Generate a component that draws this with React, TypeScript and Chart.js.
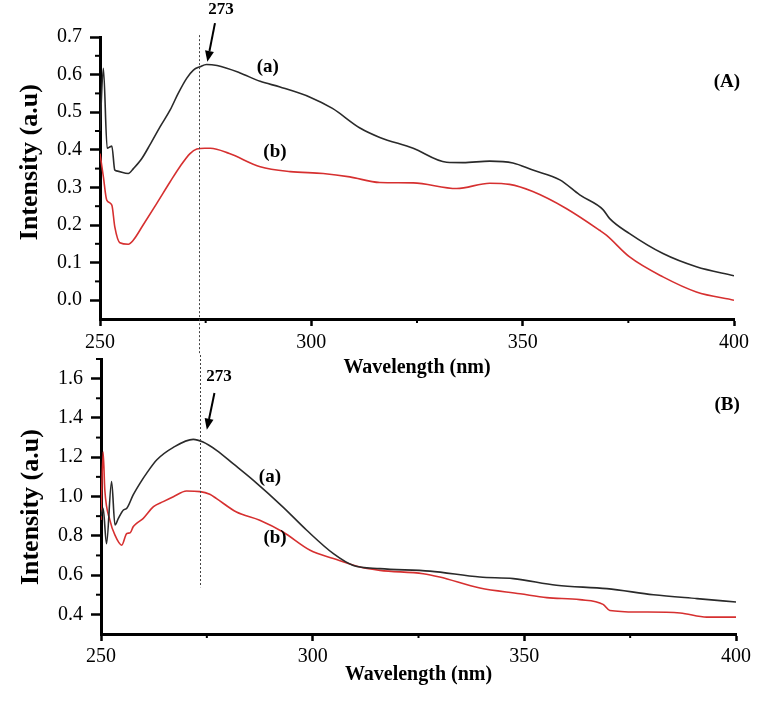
import React, { useEffect, useRef } from 'react';
import { Chart, registerables } from 'chart.js';

Chart.register(...registerables);

const SERIF = "'Liberation Serif', 'Times New Roman', serif";

// ---------- Panel A ----------
const wavelengthA_a = [250, 250.8, 251.7, 252.4, 252.8, 253.5, 253.9, 256.7, 257.9, 259.9, 261.8, 264.2, 266.6, 268.5, 270.5, 272.1, 273.7, 275.2, 277.7, 283, 287.9, 292.6, 299.7, 305, 311.5, 316.2, 324.1, 332, 335.9, 342.2, 347.7, 352.4, 358.8, 363.5, 369, 370.6, 375.3, 383.2, 391.1, 400];
const intensityA_a = [0.45, 0.617, 0.404, 0.408, 0.41, 0.346, 0.344, 0.337, 0.35, 0.377, 0.413, 0.461, 0.506, 0.55, 0.59, 0.612, 0.621, 0.627, 0.624, 0.605, 0.582, 0.567, 0.54, 0.51, 0.458, 0.433, 0.404, 0.367, 0.366, 0.37, 0.365, 0.346, 0.32, 0.28, 0.241, 0.217, 0.177, 0.124, 0.089, 0.065];
const wavelengthA_b = [250, 250.8, 251.6, 252.8, 253.5, 254.7, 256.7, 257.9, 260.2, 263.4, 266.6, 268.9, 271.3, 272.9, 274.8, 276.1, 280.6, 287.9, 295, 302.8, 309.1, 316.2, 324.1, 334.4, 342.2, 346.9, 352.4, 360.3, 368.2, 369.8, 375.3, 383.2, 391.1, 400];
const intensityA_b = [0.39, 0.328, 0.266, 0.253, 0.195, 0.153, 0.149, 0.16, 0.2, 0.257, 0.315, 0.355, 0.39, 0.402, 0.404, 0.404, 0.39, 0.355, 0.342, 0.337, 0.328, 0.313, 0.312, 0.297, 0.311, 0.308, 0.289, 0.244, 0.186, 0.173, 0.115, 0.062, 0.022, 0.0];

// ---------- Panel B ----------
const wavelengthB_a = [250, 250.5, 251.3, 252.5, 253.3, 254.1, 255.3, 256.1, 257.6, 259.2, 260.8, 263.2, 267, 271.8, 274.1, 277.3, 281.2, 286, 293, 298.6, 304.9, 309.6, 315.9, 327.7, 339.5, 347.4, 357.6, 369.5, 380.5, 390.8, 400];
const intensityB_a = [0.9, 0.94, 0.76, 1.076, 0.855, 0.889, 0.931, 0.94, 1.008, 1.067, 1.119, 1.187, 1.249, 1.291, 1.277, 1.235, 1.167, 1.082, 0.946, 0.828, 0.709, 0.649, 0.633, 0.62, 0.59, 0.582, 0.548, 0.531, 0.5, 0.48, 0.463];
const wavelengthB_b = [250, 250.5, 250.9, 252.1, 253.3, 254.9, 256.1, 256.9, 257.6, 258.4, 260, 262.4, 264.7, 267.1, 270.2, 273.4, 275.7, 277.3, 282, 287.5, 293, 299.4, 304.9, 311.2, 315.9, 326.1, 330, 339.5, 349, 355.3, 363.1, 368.6, 370.2, 377.3, 386.8, 393.1, 400];
const intensityB_b = [0.88, 1.226, 1.033, 0.88, 0.803, 0.752, 0.812, 0.815, 0.846, 0.863, 0.889, 0.948, 0.974, 0.999, 1.028, 1.025, 1.011, 0.989, 0.921, 0.879, 0.819, 0.726, 0.684, 0.641, 0.624, 0.607, 0.59, 0.534, 0.505, 0.485, 0.475, 0.451, 0.42, 0.412, 0.407, 0.386, 0.386];

// ---------- Ticks ----------
const xTicks = [250, 300, 350, 400];
const xMinorTicks = [275, 325, 375];
const yTicksA = [0, 0.1, 0.2, 0.3, 0.4, 0.5, 0.6, 0.7];
const yMinorTicksA = [0.05, 0.15, 0.25, 0.35, 0.45, 0.55, 0.65];
const yTicksB = [0.4, 0.6, 0.8, 1.0, 1.2, 1.4, 1.6];
const yMinorTicksB = [0.5, 0.7, 0.9, 1.1, 1.3, 1.5, 1.7];

// dotted marker line position and its label
const peakLineWavelength = 273.4;
const peakLabel = '273';
const xTitle = 'Wavelength (nm)';
const yTitle = 'Intensity (a.u)';

const BLACK_LINE = '#2a2a2a';
const RED_LINE = '#d63030';

// global y where the dotted line passes from the upper canvas to the lower one
const SPLIT_Y = 355;

type Note = { text: string; x: number; y: number; size: number };
type Panel = {
  top: number;
  height: number;
  padTop: number;
  padRight: number;
  yWidth: number;
  xHeight: number;
  yMin: number;
  yMax: number;
  yTicks: number[];
  yMinor: number[];
  xa: number[];
  ya: number[];
  xb: number[];
  yb: number[];
  notes: Note[];
  arrow: [number, number, number, number];
  yTitleAt: number;
  dotTop: number | null;
  dotBottom: number | null;
  xTitlePad: number;
  xTickPad: number;
};

const panels: Panel[] = [
  {
    top: 0,
    height: 380,
    padTop: 37,
    padRight: 29,
    yWidth: 100,
    xHeight: 61,
    yMin: -0.05,
    yMax: 0.7,
    yTicks: yTicksA,
    yMinor: yMinorTicksA,
    xa: wavelengthA_a,
    ya: intensityA_a,
    xb: wavelengthA_b,
    yb: intensityA_b,
    notes: [
      { text: peakLabel, x: 278.6, y: 0.772, size: 17 },
      { text: '(a)', x: 289.7, y: 0.62, size: 19 },
      { text: '(b)', x: 291.4, y: 0.394, size: 19 },
      { text: '(A)', x: 398.3, y: 0.58, size: 19 },
    ],
    arrow: [277.2, 0.737, 275.4, 0.634],
    yTitleAt: 0.367,
    dotTop: 0.705,
    dotBottom: null,
    xTitlePad: 0,
    xTickPad: 5,
  },
  {
    top: 350,
    height: 353,
    padTop: 9,
    padRight: 27,
    yWidth: 101,
    xHeight: 69,
    yMin: 0.3,
    yMax: 1.7,
    yTicks: yTicksB,
    yMinor: yMinorTicksB,
    xa: wavelengthB_a,
    ya: intensityB_a,
    xb: wavelengthB_b,
    yb: intensityB_b,
    notes: [
      { text: peakLabel, x: 277.9, y: 1.608, size: 17 },
      { text: '(a)', x: 289.9, y: 1.1, size: 19 },
      { text: '(b)', x: 291.1, y: 0.788, size: 19 },
      { text: '(B)', x: 397.9, y: 1.467, size: 19 },
    ],
    arrow: [276.8, 1.527, 275.0, 1.34],
    yTitleAt: 0.946,
    dotTop: null,
    dotBottom: 0.538,
    xTitlePad: 16,
    xTickPad: 4,
  },
];

function makeChart(canvas: HTMLCanvasElement, p: Panel) {
  const decor = {
    id: 'decor' + p.top,
    afterDraw(chart: any) {
      const { ctx, chartArea } = chart;
      const x = chart.scales.x;
      const y = chart.scales.y;
      ctx.save();
      // minor ticks
      ctx.strokeStyle = '#000';
      ctx.lineWidth = 2;
      p.yMinor.forEach((v) => {
        const py = y.getPixelForValue(v);
        ctx.beginPath();
        ctx.moveTo(chartArea.left - 5, py);
        ctx.lineTo(chartArea.left, py);
        ctx.stroke();
      });
      xMinorTicks.forEach((v) => {
        const px = x.getPixelForValue(v);
        ctx.beginPath();
        ctx.moveTo(px, chartArea.bottom);
        ctx.lineTo(px, chartArea.bottom + 4);
        ctx.stroke();
      });
      // dotted peak line
      const dx = Math.round(x.getPixelForValue(peakLineWavelength)) + 0.5;
      const dTop = p.dotTop === null ? SPLIT_Y - p.top : y.getPixelForValue(p.dotTop);
      const dBot = p.dotBottom === null ? SPLIT_Y - p.top : y.getPixelForValue(p.dotBottom);
      ctx.strokeStyle = '#444';
      ctx.lineWidth = 1;
      ctx.setLineDash([2, 2]);
      ctx.beginPath();
      ctx.moveTo(dx, dTop);
      ctx.lineTo(dx, dBot);
      ctx.stroke();
      ctx.setLineDash([]);
      // arrow
      const [ax1, ay1, ax2, ay2] = p.arrow;
      const x1 = x.getPixelForValue(ax1);
      const y1 = y.getPixelForValue(ay1);
      const x2 = x.getPixelForValue(ax2);
      const y2 = y.getPixelForValue(ay2);
      const ang = Math.atan2(y2 - y1, x2 - x1);
      const head = 11;
      const hw = 4.5;
      const bx = x2 - head * Math.cos(ang);
      const by = y2 - head * Math.sin(ang);
      ctx.strokeStyle = '#000';
      ctx.fillStyle = '#000';
      ctx.lineWidth = 2;
      ctx.beginPath();
      ctx.moveTo(x1, y1);
      ctx.lineTo(bx, by);
      ctx.stroke();
      ctx.beginPath();
      ctx.moveTo(x2, y2);
      ctx.lineTo(bx + hw * Math.sin(ang), by - hw * Math.cos(ang));
      ctx.lineTo(bx - hw * Math.sin(ang), by + hw * Math.cos(ang));
      ctx.closePath();
      ctx.fill();
      // notes
      ctx.textAlign = 'center';
      ctx.textBaseline = 'middle';
      p.notes.forEach((n) => {
        ctx.font = `bold ${n.size}px ${SERIF}`;
        ctx.fillText(n.text, x.getPixelForValue(n.x), y.getPixelForValue(n.y));
      });
      // y title
      ctx.save();
      ctx.translate(chartArea.left - 70, y.getPixelForValue(p.yTitleAt));
      ctx.rotate(-Math.PI / 2);
      ctx.font = `bold 26px ${SERIF}`;
      ctx.fillText(yTitle, 0, 0);
      ctx.restore();
      ctx.restore();
    },
  };

  return new Chart(canvas, {
    type: 'line',
    data: {
      datasets: [
        {
          label: '(a)',
          data: p.xa.map((v, i) => ({ x: v, y: p.ya[i] })),
          borderColor: BLACK_LINE,
          borderWidth: 1.6,
          pointRadius: 0,
          cubicInterpolationMode: 'monotone',
          fill: false,
        },
        {
          label: '(b)',
          data: p.xb.map((v, i) => ({ x: v, y: p.yb[i] })),
          borderColor: RED_LINE,
          borderWidth: 1.6,
          pointRadius: 0,
          cubicInterpolationMode: 'monotone',
          fill: false,
        },
      ],
    },
    options: {
      animation: false,
      responsive: false,
      devicePixelRatio: 1,
      layout: { padding: { top: p.padTop, right: p.padRight, left: 0, bottom: 0 } },
      plugins: { legend: { display: false }, tooltip: { enabled: false }, title: { display: false } },
      scales: {
        x: {
          type: 'linear',
          min: 250,
          max: 400,
          afterBuildTicks: (s: any) => {
            s.ticks = xTicks.map((v) => ({ value: v }));
          },
          afterFit: (s: any) => {
            s.height = p.xHeight;
            s.paddingLeft = 0;
            s.paddingRight = 0;
          },
          ticks: {
            autoSkip: false,
            maxRotation: 0,
            padding: p.xTickPad,
            color: '#000',
            font: { family: SERIF, size: 20 },
            callback: (v: any) => String(v),
          },
          grid: {
            drawOnChartArea: false,
            drawTicks: true,
            tickLength: 7,
            tickWidth: 2.5,
            tickColor: '#000',
          },
          border: { display: true, color: '#000', width: 3 },
          title: {
            display: true,
            text: xTitle,
            color: '#000',
            font: { family: SERIF, size: 20, weight: 'bold' },
            padding: { top: 0, bottom: p.xTitlePad },
          },
        },
        y: {
          type: 'linear',
          min: p.yMin,
          max: p.yMax,
          afterBuildTicks: (s: any) => {
            s.ticks = p.yTicks.map((v) => ({ value: v }));
          },
          afterFit: (s: any) => {
            s.width = p.yWidth;
            s.paddingTop = 0;
            s.paddingBottom = 0;
          },
          ticks: {
            autoSkip: false,
            padding: 8,
            color: '#000',
            font: { family: SERIF, size: 20 },
            callback: (v: any) => Number(v).toFixed(1),
          },
          grid: {
            drawOnChartArea: false,
            drawTicks: true,
            tickLength: 10,
            tickWidth: 2.5,
            tickColor: '#000',
          },
          border: { display: true, color: '#000', width: 3 },
        },
      },
    },
    plugins: [decor],
  } as any);
}

function Panel({ p }: { p: Panel }) {
  const ref = useRef<HTMLCanvasElement>(null);
  useEffect(() => {
    if (!ref.current) return;
    const chart = makeChart(ref.current, p);
    return () => chart.destroy();
  }, [p]);
  return (
    <canvas
      ref={ref}
      width={763}
      height={p.height}
      style={{ position: 'absolute', left: 0, top: p.top, width: 763, height: p.height }}
    />
  );
}

export default function App() {
  return (
    <div style={{ position: 'absolute', left: 0, top: 0, width: 763, height: 703, background: '#fff' }}>
      {panels.map((p) => (
        <Panel key={p.top} p={p} />
      ))}
    </div>
  );
}
